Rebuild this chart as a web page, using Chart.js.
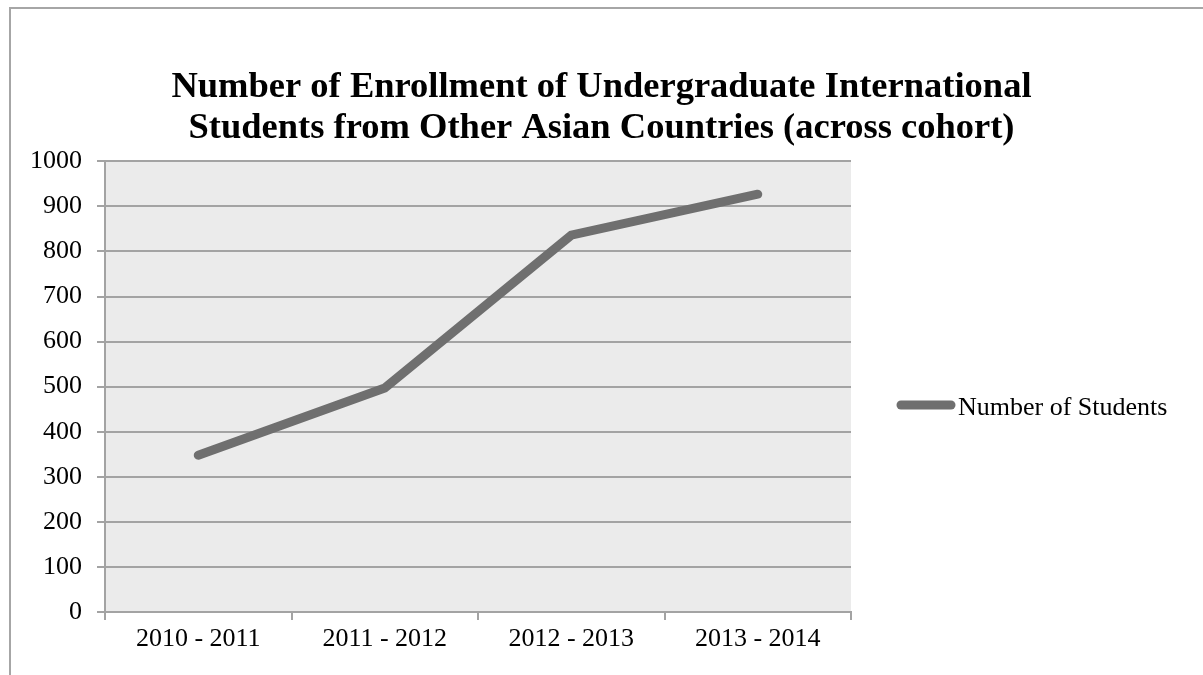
<!DOCTYPE html>
<html>
<head>
<meta charset="utf-8">
<script src="https://cdn.jsdelivr.net/npm/chart.js@4/dist/chart.umd.min.js"></script>
<style>
  html, body { margin: 0; padding: 0; background: #ffffff; }
  #wrap { position: relative; width: 1203px; height: 675px; overflow: hidden; }
  #frame { position: absolute; left: 9px; top: 7px; width: 1300px; height: 800px;
           border-left: 2px solid #a6a6a6; border-top: 2px solid #a6a6a6; box-sizing: border-box; }
  canvas { position: absolute; left: 0; top: 0; }
</style>
</head>
<body>
<div id="wrap">
  <div id="frame"></div>
  <canvas id="c" width="1203" height="675"></canvas>
</div>
<script>
const titleLines = ["Number of Enrollment of Undergraduate International", "Students from Other Asian Countries (across cohort)"];
const categories = ["2010 - 2011", "2011 - 2012", "2012 - 2013", "2013 - 2014"];
const seriesName = "Number of Students";
const studentCounts = [348, 497, 836, 927];
const yTicks = [0, 100, 200, 300, 400, 500, 600, 700, 800, 900, 1000];

const FONT = "'Liberation Serif', 'Times New Roman', serif";
const LINE_COLOR = "#6f6f6f";
const GRID_COLOR = "#a3a3a3";

const plotBg = {
  id: 'plotBg',
  beforeDraw(chart) {
    const a = chart.chartArea, ctx = chart.ctx;
    ctx.save();
    ctx.fillStyle = '#ebebeb';
    ctx.fillRect(a.left, a.top, a.right - a.left, a.bottom - a.top);
    ctx.restore();
  }
};

const customLegend = {
  id: 'customLegend',
  afterDraw(chart) {
    const ctx = chart.ctx;
    const ds = chart.data.datasets[0];
    const y = 405;
    ctx.save();
    ctx.strokeStyle = ds.borderColor;
    ctx.lineWidth = ds.borderWidth;
    ctx.lineCap = 'round';
    ctx.beginPath();
    ctx.moveTo(901, y);
    ctx.lineTo(951, y);
    ctx.stroke();
    ctx.fillStyle = '#000';
    ctx.font = "26px " + FONT;
    ctx.textBaseline = 'alphabetic';
    ctx.textAlign = 'left';
    ctx.fillText(ds.label, 958, 415);
    ctx.restore();
  }
};

new Chart(document.getElementById('c'), {
  type: 'line',
  data: {
    labels: categories,
    datasets: [{
      label: seriesName,
      data: studentCounts,
      borderColor: LINE_COLOR,
      backgroundColor: LINE_COLOR,
      borderWidth: 9,
      borderCapStyle: 'round',
      borderJoinStyle: 'miter',
      pointRadius: 0,
      pointHoverRadius: 0,
      tension: 0,
      fill: false
    }]
  },
  options: {
    responsive: false,
    animation: false,
    events: [],
    layout: { padding: { left: 0, right: 0, top: 0, bottom: 0 } },
    plugins: {
      legend: { display: false },
      tooltip: { enabled: false },
      title: {
        display: true,
        text: titleLines,
        color: '#000',
        font: { family: FONT, size: 36.5, weight: 'bold', lineHeight: 1.1 },
        padding: { top: 68, bottom: 13 }
      }
    },
    scales: {
      x: {
        type: 'category',
        offset: true,
        grid: { display: true, offset: true, drawOnChartArea: false, drawTicks: true, tickLength: 8, color: GRID_COLOR, lineWidth: 2 },
        border: { display: true, color: GRID_COLOR, width: 2 },
        ticks: { color: '#000', font: { family: FONT, size: 26 }, padding: 4, maxRotation: 0, autoSkip: false },
        afterFit(scale) { scale.height = 63; }
      },
      y: {
        min: 0, max: 1000,
        afterBuildTicks(scale) { scale.ticks = yTicks.map(v => ({ value: v })); },
        grid: { display: true, drawTicks: true, tickLength: 8, color: GRID_COLOR, lineWidth: 2 },
        border: { display: true, color: GRID_COLOR, width: 2 },
        ticks: { color: '#000', font: { family: FONT, size: 26 }, padding: 15, callback: (v) => String(v) },
        afterFit(scale) { scale.width = 105; }
      },
      yRight: {
        position: 'right',
        display: true,
        grid: { display: false, drawTicks: false },
        border: { display: false },
        ticks: { display: false },
        afterFit(scale) { scale.width = 1203 - 851; }
      }
    }
  },
  plugins: [plotBg, customLegend]
});
</script>
</body>
</html>
